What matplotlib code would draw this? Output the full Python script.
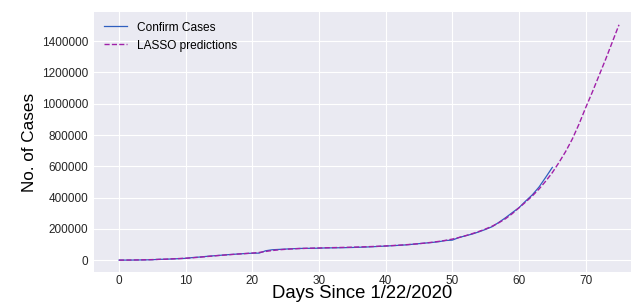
import numpy as np
import matplotlib.pyplot as plt

# global confirmed cases, day 0 = 1/22/2020
confirmed = [555, 654, 941, 1434, 2118, 2927, 5578, 6166, 8234, 9927,
             12038, 16787, 19881, 23892, 27635, 30794, 34391, 37120, 40150, 42762,
             44802, 45221, 60368, 66885, 69030, 71224, 73258, 75136, 75639, 76197,
             76823, 78579, 78965, 79568, 80413, 81395, 82754, 84120, 86011, 88369,
             90306, 92840, 95120, 97882, 101784, 105821, 109795, 113561, 118592, 125865,
             128343, 145193, 156097, 167449, 181531, 197146, 214910, 242708, 272166, 304524,
             335955, 378287, 418041, 467653, 529591, 593291]

lasso_pred = [600, 900, 1300, 1900, 2700, 3800, 5200, 6800, 8600, 10500,
              12600, 15600, 19000, 22800, 26600, 30200, 33600, 36800, 39800, 42600,
              45600, 49500, 56000, 62000, 66500, 69800, 72400, 74400, 75900, 77100,
              78200, 79300, 80300, 81200, 82200, 83300, 84500, 85900, 87500, 89300,
              91300, 93500, 96000, 98800, 102000, 105700, 109900, 114800, 120500, 127000,
              135000, 145000, 157000, 170000, 184000, 200000, 218000, 240000, 266000, 298000,
              335000, 372000, 411000, 455000, 505000, 560000, 625000, 695000, 775000, 870000,
              975000, 1075000, 1180000, 1285000, 1395000, 1505000]

days = np.arange(len(lasso_pred))

plt.rcParams['font.family'] = ['Liberation Sans', 'DejaVu Sans']
fig = plt.figure(figsize=(6.31, 3.03), dpi=100)
ax = fig.add_axes([0.149, 0.102, 0.851, 0.858])
ax.set_facecolor('#EAEAF2')
ax.grid(color='white', linewidth=0.8)
ax.set_axisbelow(True)
for s in ax.spines.values():
    s.set_visible(False)

ax.plot(days[:len(confirmed)], confirmed, color='#2f5fbf', linewidth=0.9, label='Confirm Cases')
ax.plot(days, lasso_pred, color='#a020a8', linestyle='--', linewidth=1.0, label='LASSO predictions')

ax.set_xlim(-3.75, 76.8)
ax.set_ylim(-76000, 1586000)
ax.set_xticks([0, 10, 20, 30, 40, 50, 60, 70])
ax.set_yticks(np.arange(0, 1400001, 200000))
ax.ticklabel_format(style='plain', axis='y')
ax.tick_params(length=0, labelsize=8.5, labelcolor='#262626')
ax.tick_params(axis='x', pad=2)
ax.tick_params(axis='y', pad=4)

ax.set_xlabel('Days Since 1/22/2020', fontsize=13.3, labelpad=-1)
ax.set_ylabel('No. of Cases', fontsize=12.3, labelpad=4)
ax.legend(loc='upper left', frameon=False, fontsize=8.6, handlelength=2.0,
          borderaxespad=0.4)

fig.savefig('out.png', dpi=100)
